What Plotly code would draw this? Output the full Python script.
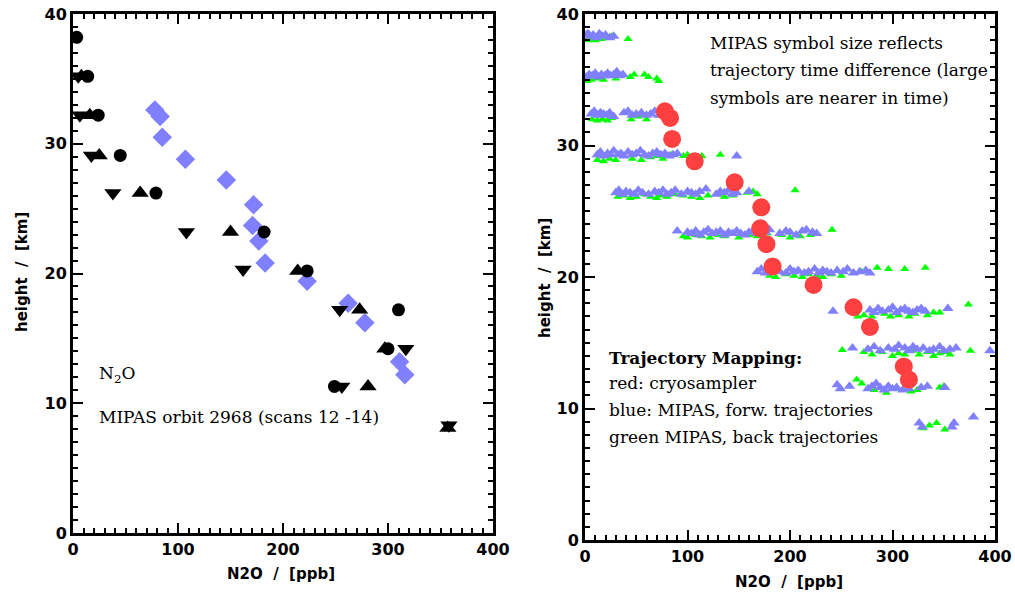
import plotly.graph_objects as go

# ---------------- data ----------------
# Left panel: black symbols (N2O in situ profiles)
circ_x = [3.5, 14, 24, 45, 79, 182, 223, 310, 300, 249]
circ_y = [38.2, 35.2, 32.2, 29.1, 26.2, 23.2, 20.2, 17.2, 14.2, 11.3]
tup_x = [8, 16, 25, 64, 150, 214, 273, 297, 281, 357]
tup_y = [35.2, 32.2, 29.1, 26.2, 23.2, 20.2, 17.2, 14.2, 11.3, 8.1]
tdn_x = [5, 6.5, 17.5, 38, 108, 162, 254, 317, 256, 358]
tdn_y = [35.2, 32.2, 29.1, 26.2, 23.2, 20.3, 17.2, 14.2, 11.3, 8.3]

# Cryosampler (blue diamonds left / red circles right)
cryo_x = [78, 83, 85, 107, 146, 172, 171, 177, 183, 223, 262, 278, 311, 316]
cryo_y = [32.6, 32.1, 30.5, 28.8, 27.2, 25.3, 23.7, 22.5, 20.8, 19.4, 17.7, 16.2, 13.2, 12.2]

# Right panel: MIPAS forward trajectories (blue)
fw_x = [1, 3, 5, 8, 11, 14, 17, 20, 24, 28,
        1, 4, 7, 10, 13, 16, 19, 22, 25, 28, 31, 34, 37,
        6, 9, 12, 15, 18, 21, 24, 28, 38, 42, 46, 50, 55, 60, 64, 68, 72,
        12, 15, 18, 22, 25, 28, 32, 35, 38, 42, 46, 50, 54, 58, 62, 66, 70, 74, 78, 82, 86, 90, 148,
        30, 33, 36, 40, 44, 48, 52, 56, 62, 68, 72, 76, 80, 84, 88, 94, 100, 104, 108, 112, 118,
        128, 132, 136, 140, 144, 148, 160,
        90, 100, 104, 108, 112, 116, 120, 124, 128, 132, 136, 140, 144, 148, 152, 156, 160, 164,
        168, 176, 180, 190, 196, 200, 206, 212, 216, 222, 226,
        168, 172, 176, 184, 190, 196, 200, 204, 208, 214, 218, 224, 228, 232, 236, 240, 246, 252,
        256, 262, 268, 274, 278,
        242, 278, 282, 286, 290, 296, 300, 304, 308, 312, 316, 320, 324, 328, 332, 354,
        261, 276, 282, 288, 296, 302, 306, 312, 316, 320, 324, 330, 336, 340, 346, 350, 356, 362, 395,
        246, 249, 258, 276, 280, 284, 288, 292, 296, 300, 304, 310, 316, 328, 334, 351,
        326, 329, 358, 360, 379]
fw_y = [38.4, 38.5, 38.3, 38.4, 38.2, 38.5, 38.3, 38.4, 38.2, 38.3,
        35.2, 35.4, 35.3, 35.5, 35.2, 35.4, 35.3, 35.5, 35.3, 35.4, 35.6, 35.3, 35.4,
        32.4, 32.6, 32.3, 32.5, 32.4, 32.3, 32.5, 32.2, 32.5, 32.6, 32.3, 32.4, 32.5, 32.3, 32.4, 32.6, 32.3,
        29.3, 29.5, 29.2, 29.4, 29.3, 29.6, 29.3, 29.4, 29.2, 29.5, 29.3, 29.4, 29.6, 29.3, 29.2, 29.4, 29.5, 29.3, 29.4, 29.2, 29.3, 29.4, 29.2,
        26.4, 26.6, 26.3, 26.5, 26.4, 26.3, 26.6, 26.4, 26.3, 26.5, 26.4, 26.6, 26.3, 26.4, 26.6, 26.3, 26.5, 26.4, 26.3, 26.5, 26.7,
        26.3, 26.5, 26.4, 26.6, 26.3, 26.4, 26.5,
        23.5, 23.4, 23.3, 23.5, 23.2, 23.4, 23.6, 23.3, 23.4, 23.5, 23.2, 23.4, 23.3, 23.5, 23.3, 23.2, 23.4, 23.5,
        23.3, 23.4, 23.6, 23.3, 23.5, 23.4, 23.2, 23.5, 23.6, 23.4, 23.3,
        20.4, 20.6, 20.3, 20.5, 20.4, 20.3, 20.6, 20.4, 20.5, 20.3, 20.4, 20.6, 20.3, 20.5, 20.4, 20.3, 20.5, 20.4,
        20.6, 20.3, 20.4, 20.5, 20.3,
        17.4, 17.5, 17.3, 17.6, 17.4, 17.5, 17.7, 17.3, 17.5, 17.6, 17.4, 17.3, 17.5, 17.6, 17.4, 17.6,
        14.6, 14.5, 14.7, 14.4, 14.6, 14.5, 14.8, 14.6, 14.4, 14.7, 14.5, 14.6, 14.4, 14.5, 14.7, 14.4, 14.5, 14.6, 14.4,
        11.8, 11.5, 11.7, 11.5, 11.7, 11.9, 11.6, 11.4, 11.7, 11.5, 11.6, 11.4, 11.5, 11.6, 11.7, 11.6,
        8.9, 8.6, 8.6, 8.9, 9.35]

# Right panel: MIPAS back trajectories (green)
bw_x = [2, 6, 10, 16, 22, 26, 42,
        2, 6, 12, 18, 30, 44, 48, 58, 62, 70, 72,
        7, 12, 17, 22, 26, 45, 52, 56, 60, 74,
        12, 18, 24, 30, 38, 46, 55, 64, 70, 76, 84, 96, 100, 114, 132,
        32, 38, 44, 50, 58, 64, 70, 74, 80, 88, 96, 104, 112, 120, 130, 136, 144, 158, 164, 168, 205,
        96, 100, 108, 114, 122, 130, 136, 144, 150, 160, 168, 178, 192, 200, 210, 220, 241,
        180, 186, 196, 204, 212, 218, 226, 232, 240, 250, 262, 270, 285, 296, 312, 332,
        266, 272, 280, 292, 298, 306, 316, 322, 334, 340, 346, 374,
        251, 272, 280, 290, 300, 306, 312, 320, 326, 334, 340, 346, 352, 356, 376,
        265, 270, 282, 294, 304, 318, 324, 346, 350,
        330, 336, 343, 351]
bw_y = [38.0, 38.1, 38.0, 38.1, 38.2, 38.3, 38.1,
        34.9, 35.0, 35.1, 35.0, 35.1, 35.2, 35.4, 35.4, 35.2, 35.1, 34.9,
        32.0, 31.9, 32.0, 31.9, 32.1, 32.0, 32.2, 32.4, 32.0, 32.3,
        28.9, 28.8, 29.0, 28.9, 29.2, 29.0, 28.9, 29.1, 29.2, 29.0, 29.3, 29.2, 29.3, 29.2, 29.3,
        26.1, 26.2, 26.0, 26.1, 26.3, 26.1, 26.0, 26.2, 26.1, 26.3, 26.2, 26.1, 26.0, 26.2, 26.3, 26.1, 26.2, 26.4, 26.5, 26.3, 26.6,
        23.1, 23.0, 23.2, 23.1, 23.0, 23.2, 23.1, 23.3, 23.0, 23.2, 23.1, 23.3, 23.2, 23.0, 23.1, 23.2, 23.6,
        20.1, 20.0, 20.2, 20.1, 20.0, 20.2, 20.1, 20.0, 20.2, 20.1, 20.3, 20.4, 20.7, 20.6, 20.6, 20.7,
        17.0, 17.1, 17.0, 17.2, 17.0, 17.1, 17.0, 17.2, 17.1, 17.3, 17.3, 17.9,
        14.45, 14.3, 14.1, 14.3, 14.0, 14.2, 14.1, 14.4, 14.1, 14.3, 14.0, 14.2, 14.3, 14.1, 14.4,
        12.2, 11.9, 11.4, 11.2, 11.5, 11.3, 11.4, 11.6, 11.7,
        8.5, 8.7, 8.9, 8.4]

BLUE = "#8080FF"
GREEN = "#00FF00"
RED = "#FF4040"

fig = go.Figure()

# left panel
fig.add_trace(go.Scatter(x=cryo_x, y=cryo_y, mode="markers", xaxis="x", yaxis="y",
                         marker=dict(symbol="diamond", size=15, color=BLUE), showlegend=False))
fig.add_trace(go.Scatter(x=circ_x, y=circ_y, mode="markers", xaxis="x", yaxis="y",
                         marker=dict(symbol="circle", size=13, color="black"), showlegend=False))
fig.add_trace(go.Scatter(x=tup_x, y=tup_y, mode="markers", xaxis="x", yaxis="y",
                         marker=dict(symbol="triangle-up", size=15, color="black"), showlegend=False))
fig.add_trace(go.Scatter(x=tdn_x, y=tdn_y, mode="markers", xaxis="x", yaxis="y",
                         marker=dict(symbol="triangle-down", size=15, color="black"), showlegend=False))

# right panel
fig.add_trace(go.Scatter(x=bw_x, y=bw_y, mode="markers", xaxis="x2", yaxis="y2",
                         marker=dict(symbol="triangle-up", size=8, color=GREEN), showlegend=False))
fig.add_trace(go.Scatter(x=fw_x, y=fw_y, mode="markers", xaxis="x2", yaxis="y2",
                         marker=dict(symbol="triangle-up", size=10, color=BLUE), showlegend=False))
fig.add_trace(go.Scatter(x=cryo_x, y=cryo_y, mode="markers", xaxis="x2", yaxis="y2",
                         marker=dict(symbol="circle", size=18, color=RED), showlegend=False))

tickfont = dict(family="DejaVu Sans", size=16, color="black", weight="bold")
common = dict(showline=True, linewidth=3, linecolor="black", mirror="ticks",
              ticks="inside", ticklen=10, tickwidth=2, tickcolor="black",
              showgrid=False, zeroline=False, tickfont=tickfont, automargin=False,
              minor=dict(ticks="inside", ticklen=5, tickwidth=2, tickcolor="black"))

fig.update_layout(
    template="none",
    width=1015, height=594,
    margin=dict(l=0, r=0, t=0, b=0, autoexpand=False),
    paper_bgcolor="white", plot_bgcolor="white",
    xaxis=dict(domain=[73/1015, 493/1015], range=[0, 400], tickvals=[0, 100, 200, 300, 400],
               anchor="y", minor_dtick=10, **common),
    yaxis=dict(domain=[61/594, 580/594], range=[0, 40], tickvals=[0, 10, 20, 30, 40],
               anchor="x", minor_dtick=1, **common),
    xaxis2=dict(domain=[585/1015, 995/1015], range=[0, 400], tickvals=[0, 100, 200, 300, 400],
                anchor="y2", minor_dtick=10, **common),
    yaxis2=dict(domain=[54/594, 580/594], range=[0, 40], tickvals=[0, 10, 20, 30, 40],
                anchor="x2", minor_dtick=1, **common),
)

titlefont = dict(family="DejaVu Sans", size=15, color="black", weight="bold")
serif = dict(family="DejaVu Serif", size=17, color="black")


def ann(text, px, py, font, xanchor="left", angle=0):
    fig.add_annotation(text=text, x=px/1015, y=1-py/594, xref="paper", yref="paper",
                       xanchor=xanchor, yanchor="middle", showarrow=False,
                       font=font, textangle=angle)


ann("N2O  /  [ppb]", 281, 574, titlefont, "center")
ann("N2O  /  [ppb]", 789, 582, titlefont, "center")
ann("height  /  [km]", 22, 272, titlefont, "center", -90)
ann("height  /  [km]", 545, 278, titlefont, "center", -90)

ann("N<sub>2</sub>O", 97, 374, serif)
ann("MIPAS orbit 2968 (scans 12 -14)", 97, 417, serif)

ann("MIPAS symbol size reflects", 708, 43, serif)
ann("trajectory time difference (large", 708, 70, serif)
ann("symbols are nearer in time)", 708, 98, serif)

ann("<b>Trajectory Mapping:</b>", 607, 358, serif)
ann("red: cryosampler", 607, 383, serif)
ann("blue: MIPAS, forw. trajectories", 607, 410, serif)
ann("green MIPAS, back trajectories", 607, 437, serif)

fig.write_html("out.html")
